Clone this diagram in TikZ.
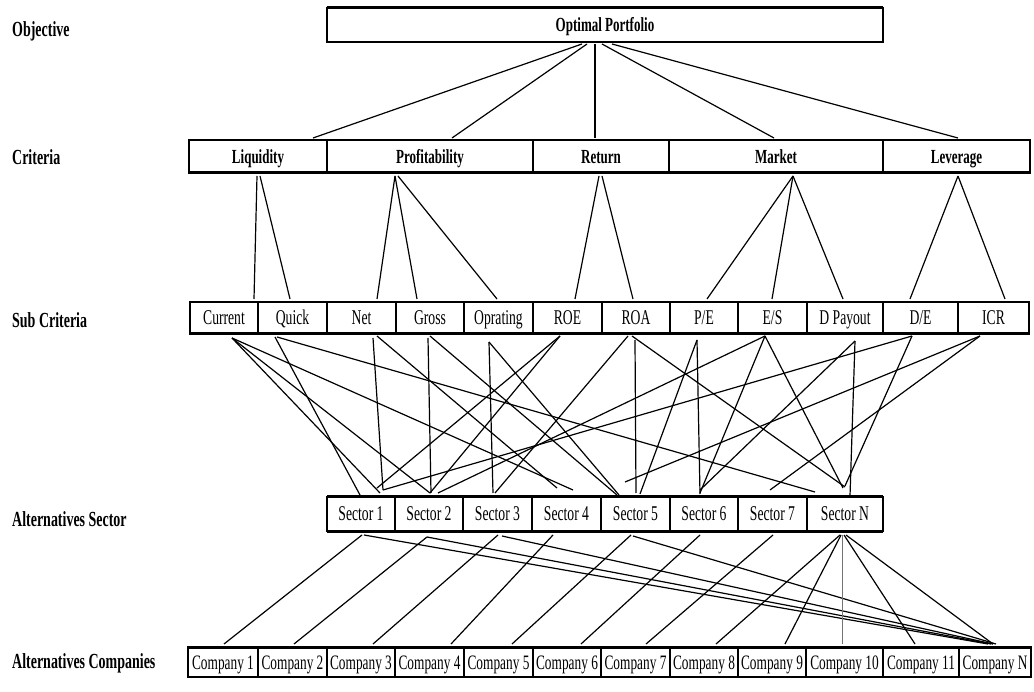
\documentclass[tikz,border=0pt]{standalone}
\usepackage{fontspec}
\setmainfont{Liberation Serif}
\newfontfamily\cnd[FakeStretch=0.65]{Liberation Serif}
\usetikzlibrary{calc}
\tikzset{
  cell/.style={draw, line width=1.4pt, anchor=center, inner sep=0pt, outer sep=0pt,
    text height=14pt, text depth=0pt, font=\cnd\fontsize{21}{22}\selectfont},
  ccell/.style={cell, font=\cnd\fontsize{20.5}{22}\selectfont},
  bcell/.style={cell, font=\cnd\bfseries\fontsize{20}{22}\selectfont},
  lab/.style={anchor=west, inner sep=0pt, text height=14pt, text depth=0pt,
    font=\cnd\bfseries\fontsize{21.5}{22}\selectfont},
  link/.style={line width=1.2pt, black},
  thinlink/.style={line width=0.8pt, black!55},
  edge/.style={line width=3pt}
}
\newcommand\lk[7][link]{\draw[#1] ($(#2.south)+(#3,#4)$) -- ($(#5.north)+(#6,#7)$);}
\begin{document}
\begin{tikzpicture}[x=1pt,y=-1pt]
\fill[white] (0,0) rectangle (1034,692);
\useasboundingbox (0,0) rectangle (1034,692);

% left labels
\node[lab] (lobj) at (12,30) {Objective};
\node[lab] (lcri) at (12,158) {Criteria};
\node[lab] (lsub) at (12,321) {Sub Criteria};
\node[lab] (lsec) at (12,519) {Alternatives Sector};
\node[lab] (lcom) at (12,661) {Alternatives Companies};

% objective
\node[bcell, minimum width=556pt, minimum height=34pt] (obj) at (605,25) {Optimal Portfolio};
\draw[edge] (obj.north west) -- (obj.north east);

% criteria
\node[bcell, minimum width=138pt, minimum height=33pt] (liq)  at (258,156.5) {Liquidity};
\node[bcell, minimum width=206pt, minimum height=33pt] (prof) at (430,156.5) {Profitability};
\node[bcell, minimum width=136pt, minimum height=33pt] (ret)  at (601,156.5) {Return};
\node[bcell, minimum width=214pt, minimum height=33pt] (mkt)  at (776,156.5) {Market};
\node[bcell, minimum width=147pt, minimum height=33pt] (lev)  at (956.5,156.5) {Leverage};
\draw[edge] (liq.south west) -- (lev.south east);

% sub criteria
\node[cell, minimum width=68pt, minimum height=32pt] (cur) at (224,318) {Current};
\node[cell, minimum width=69pt, minimum height=32pt] (qck) at (292.5,318) {Quick};
\node[cell, minimum width=69pt, minimum height=32pt] (net) at (361.5,318) {Net};
\node[cell, minimum width=68pt, minimum height=32pt] (grs) at (430,318) {Gross};
\node[cell, minimum width=69pt, minimum height=32pt] (opr) at (498.5,318) {Oprating};
\node[cell, minimum width=69pt, minimum height=32pt] (roe) at (567.5,318) {ROE};
\node[cell, minimum width=68pt, minimum height=32pt] (roa) at (636,318) {ROA};
\node[cell, minimum width=68pt, minimum height=32pt] (pe)  at (704,318) {P/E};
\node[cell, minimum width=69pt, minimum height=32pt] (es)  at (772.5,318) {E/S};
\node[cell, minimum width=76pt, minimum height=32pt] (dp)  at (845,318) {D Payout};
\node[cell, minimum width=75pt, minimum height=32pt] (de)  at (920.5,318) {D/E};
\node[cell, minimum width=71pt, minimum height=32pt] (icr) at (993.5,318) {ICR};
\draw[edge] (cur.south west) -- (icr.south east);

% sectors
\node[cell, minimum width=68pt, minimum height=34pt] (s1) at (361,514) {Sector 1};
\node[cell, minimum width=68pt, minimum height=34pt] (s2) at (429,514) {Sector 2};
\node[cell, minimum width=69pt, minimum height=34pt] (s3) at (497.5,514) {Sector 3};
\node[cell, minimum width=69pt, minimum height=34pt] (s4) at (566.5,514) {Sector 4};
\node[cell, minimum width=69pt, minimum height=34pt] (s5) at (635.5,514) {Sector 5};
\node[cell, minimum width=68pt, minimum height=34pt] (s6) at (704,514) {Sector 6};
\node[cell, minimum width=69pt, minimum height=34pt] (s7) at (772.5,514) {Sector 7};
\node[cell, minimum width=76pt, minimum height=34pt] (sn) at (845,514) {Sector N};
\draw[edge] (s1.north west) -- (sn.north east);
\draw[edge] (s1.south west) -- (sn.south east);

% companies
\node[ccell, minimum width=70pt, minimum height=30pt] (c1)  at (223,662) {Company 1};
\node[ccell, minimum width=69pt, minimum height=30pt] (c2)  at (292.5,662) {Company 2};
\node[ccell, minimum width=68pt, minimum height=30pt] (c3)  at (361,662) {Company 3};
\node[ccell, minimum width=69pt, minimum height=30pt] (c4)  at (429.5,662) {Company 4};
\node[ccell, minimum width=69pt, minimum height=30pt] (c5)  at (498.5,662) {Company 5};
\node[ccell, minimum width=68pt, minimum height=30pt] (c6)  at (567,662) {Company 6};
\node[ccell, minimum width=69pt, minimum height=30pt] (c7)  at (635.5,662) {Company 7};
\node[ccell, minimum width=68pt, minimum height=30pt] (c8)  at (704,662) {Company 8};
\node[ccell, minimum width=68pt, minimum height=30pt] (c9)  at (772,662) {Company 9};
\node[ccell, minimum width=77pt, minimum height=30pt] (c10) at (844.5,662) {Company 10};
\node[ccell, minimum width=76pt, minimum height=30pt] (c11) at (921,662) {Company 11};
\node[ccell, minimum width=72pt, minimum height=30pt] (cn)  at (995,662) {Company N};
\draw[edge] (c1.north west) -- (cn.north east);

% objective -> criteria
\lk{obj}{-23}{2}{liq}{55}{-2}
\lk{obj}{-18}{2}{prof}{22}{-2}
\lk{obj}{-10}{2}{ret}{-6}{-2}
\lk{obj}{-3}{2}{mkt}{-2}{-2}
\lk{obj}{7}{2}{lev}{1.5}{-2}

% criteria -> sub criteria
\lk{liq}{-1}{3}{cur}{30}{-3}
\lk{liq}{2}{3}{qck}{-2.5}{-3}
\lk{prof}{-35}{3}{net}{15.5}{-3}
\lk{prof}{-35}{3}{grs}{-13}{-3}
\lk{prof}{-32}{3}{opr}{-1.5}{-3}
\lk{ret}{-2}{3}{roe}{7.5}{-3}
\lk{ret}{1}{3}{roa}{-3}{-3}
\lk{mkt}{17}{3}{pe}{3}{-3}
\lk{mkt}{17}{3}{es}{-0.5}{-3}
\lk{mkt}{17}{3}{dp}{-2}{-3}
\lk{lev}{1.5}{3}{de}{-10.5}{-3}
\lk{lev}{1.5}{3}{icr}{11.5}{-3}

% sub criteria -> sectors
\lk{cur}{8}{4}{s1}{19}{-4}
\lk{cur}{8}{4}{s2}{1}{-4}
\lk{cur}{8}{4}{s4}{6.5}{-7}
\lk{qck}{-17.5}{3}{s1}{-1}{-2}
\lk{qck}{-15.5}{3}{sn}{-30}{-5}
\lk{net}{11.5}{4}{s1}{22}{-7}
\lk{net}{15.5}{2}{s4}{-9.5}{-9}
\lk{grs}{-2}{4}{s2}{2}{-4}
\lk{grs}{0}{2}{s5}{-18.5}{-2}
\lk{opr}{-9.5}{8}{s3}{-4.5}{-4}
\lk{opr}{-9.5}{8}{s5}{-16.5}{-2}
\lk{roe}{-7.5}{2}{s1}{16}{-9}
\lk{roe}{-7.5}{2}{s2}{1}{-4}
\lk{roa}{-8}{2}{s3}{-2.5}{-4}
\lk{roa}{-1}{6}{s5}{0.5}{-4}
\lk{roa}{-4}{2}{sn}{0}{-10}
\lk{pe}{-7}{6}{s6}{-4}{-3}
\lk{pe}{-7}{6}{s5}{4.5}{-3}
\lk{es}{-7.5}{2}{s2}{9}{-4}
\lk{es}{-7.5}{2}{s6}{-4}{-4}
\lk{es}{-7.5}{2}{sn}{-2}{-9}
\lk{dp}{10}{7}{sn}{5}{-1}
\lk{dp}{10}{7}{s6}{-4}{-7}
\lk{de}{-8.5}{2}{s1}{22}{-7}
\lk{de}{-8.5}{2}{sn}{0}{-11}
\lk{icr}{-13.5}{2}{s5}{-10.5}{-15}
\lk{icr}{-13.5}{2}{s7}{-2.5}{-7}

% sectors -> companies
\lk{s1}{1}{4}{c1}{1}{-3}
\lk{s1}{3}{4}{cn}{-7}{-3}
\lk{s2}{-2}{6}{c2}{1.5}{-3}
\lk{s2}{-2}{6}{cn}{-4}{-3}
\lk{s3}{0.5}{4}{c3}{12}{-3}
\lk{s3}{4.5}{5}{cn}{-2}{-3}
\lk{s4}{-13.5}{4}{c4}{21.5}{-3}
\lk{s5}{-4.5}{4}{c5}{13.5}{-3}
\lk{s5}{-2.5}{5}{cn}{1}{-3}
\lk{s6}{-4}{4}{c6}{14}{-3}
\lk{s7}{0.5}{4}{c7}{10.5}{-3}
\lk{sn}{-5}{4}{c8}{12}{-3}
\lk{sn}{-4}{4}{c9}{13}{-3}
\lk[thinlink]{sn}{-3}{4}{c10}{-2.5}{-3}
\lk{sn}{-1}{4}{c11}{-6}{-3}
\lk{sn}{1}{4}{cn}{-2}{-3}
\end{tikzpicture}
\end{document}
